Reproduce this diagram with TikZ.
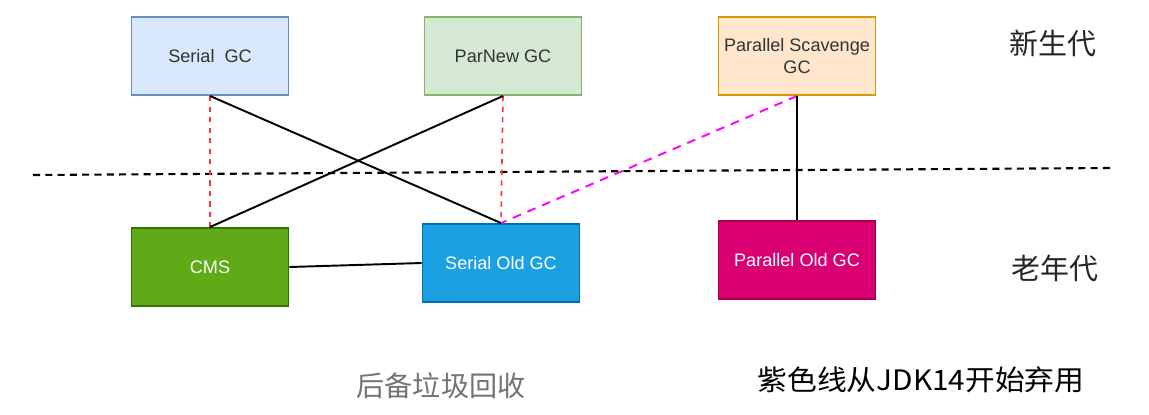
\documentclass[tikz,border=0pt]{standalone}
\usepackage{fontspec}
\setmainfont{Liberation Sans}
\newfontfamily\cjk{Noto Sans CJK SC}
\usetikzlibrary{positioning}
\definecolor{serialfill}{HTML}{DAE8FC}\definecolor{serialdraw}{HTML}{6C8EBF}
\definecolor{parnewfill}{HTML}{D5E8D4}\definecolor{parnewdraw}{HTML}{82B366}
\definecolor{scavfill}{HTML}{FFE6CC}\definecolor{scavdraw}{HTML}{D79B00}
\definecolor{cmsfill}{HTML}{60A917}\definecolor{cmsdraw}{HTML}{2D7600}
\definecolor{oldfill}{HTML}{1BA1E2}\definecolor{olddraw}{HTML}{006EAF}
\definecolor{pofill}{HTML}{D80073}\definecolor{podraw}{HTML}{A50040}
\definecolor{textgray}{HTML}{333333}
\definecolor{purpleline}{HTML}{FF00FF}
\definecolor{redline}{HTML}{FF3333}

\begin{document}
\begin{tikzpicture}[x=0.02cm,y=-0.02cm,font=\fontsize{10.3}{12}\selectfont,
 gcbox/.style={draw,line width=1.1pt,minimum width=3.14cm,minimum height=1.56cm,align=center,inner sep=1pt},
 young/.style={gcbox,text=textgray},
 old/.style={gcbox,text=white},
 link/.style={line width=1.1pt},
 redlink/.style={redline,line width=0.9pt,dashed},
 purplelink/.style={purpleline,line width=1.1pt,dash pattern=on 5pt off 4pt},
 label/.style={font=\cjk\fontsize{16.5}{18}\selectfont}]
\useasboundingbox (0,0) rectangle (1149,414);
% new generation
\node[young,fill=serialfill,draw=serialdraw] (serial) at (210,56) {Serial\ \ GC};
\node[young,fill=parnewfill,draw=parnewdraw] (parnew) at (503,56) {ParNew GC};
\node[young,fill=scavfill,draw=scavdraw] (scavenge) at (797,56) {Parallel Scavenge\\GC};
% old generation
\node[old,fill=cmsfill,draw=cmsdraw] (cms) at (210,267) {CMS};
\node[old,fill=oldfill,draw=olddraw] (serialold) at (501,263) {Serial Old GC};
\node[old,fill=pofill,draw=podraw] (parold) at (797,260) {Parallel Old GC};
% divider
\coordinate (divl) at (33,175);
\coordinate (divr) at (1110,168);
\draw[line width=1.2pt,dash pattern=on 4pt off 3pt] (divl)--(divr);
% labels
\node[label,text=black!85] (youngtxt) at (1053,43) {新生代};
\node[label,text=black!85] (oldtxt) at (1055,268) {老年代};
\node[font=\cjk\fontsize{16}{18}\selectfont,text=black!55] (backup) at (441,386) {后备垃圾回收};
\node[font=\cjk\fontsize{16}{18}\selectfont,xscale=1.06] (deprecated) at (921,380) {紫色线从JDK14开始弃用};
% combinations
\draw[redlink] (serial.south)--(cms.north);
\draw[redlink] (parnew.south)--(serialold.north);
\draw[link] (serial.south)--(serialold.north);
\draw[link] (parnew.south)--(cms.north);
\draw[purplelink] (scavenge.south)--(serialold.north);
\draw[link] (scavenge.south)--(parold.north);
\draw[link] (cms.east)--(serialold.west);
\end{tikzpicture}
\end{document}
